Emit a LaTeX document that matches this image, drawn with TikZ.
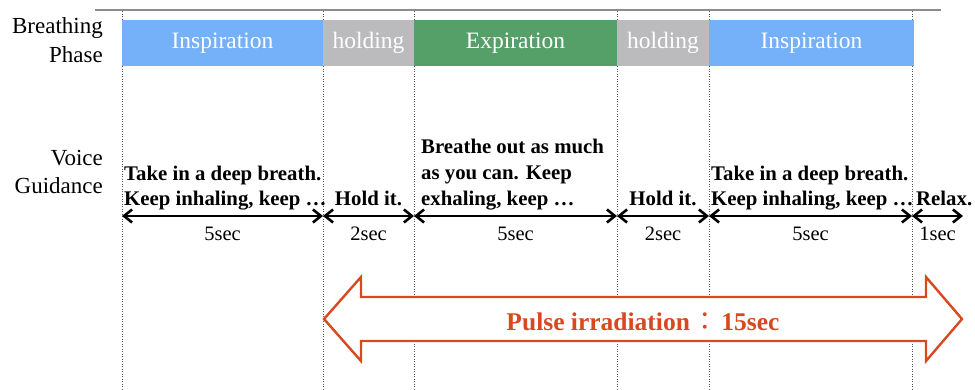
\documentclass[tikz,border=0pt]{standalone}
\usepackage{fontspec}
\setmainfont{Liberation Serif}
\newfontfamily\cjk{Noto Sans CJK JP}
\usetikzlibrary{arrows.meta}
\definecolor{inspblue}{HTML}{74B1F8}
\definecolor{holdgray}{HTML}{BBBBBD}
\definecolor{expgreen}{HTML}{55A068}
\definecolor{pulsered}{HTML}{D9491F}
\definecolor{rulegray}{HTML}{8C8C8C}
\definecolor{dotgray}{HTML}{555555}
\begin{document}
\begin{tikzpicture}[x=1pt,y=-1pt,
  phasebar/.style={inner sep=0pt,outer sep=0pt,minimum height=46pt,text=white,
    font=\fontsize{23.5}{27}\selectfont},
  rowlabel/.style={inner sep=0pt,anchor=base east,font=\fontsize{23}{27}\selectfont},
  cue/.style={inner sep=0pt,anchor=base west,font=\fontsize{20.8}{24}\selectfont\bfseries},
  cuemid/.style={cue,anchor=base},
  secs/.style={inner sep=0pt,anchor=base,font=\fontsize{20.5}{24}\selectfont},
  guide/.style={dotgray,line width=1pt,dash pattern=on 1pt off 1.5pt},
  span/.style={line width=2.6pt,
    {Straight Barb[length=8pt,width=13pt]}-{Straight Barb[length=8pt,width=13pt]}},
  pulse/.style={draw=pulsered,fill=white,line width=2.4pt,line join=miter}
]
\useasboundingbox (0,0) rectangle (975,389);

% top rule
\coordinate (r0) at (95,10);
\coordinate (r1) at (941,10);
\draw[rulegray,line width=1.5pt] (r0) -- (r1);

% dotted time markers
\foreach \i/\x in {0/122,1/323,2/414,3/617,4/709,5/912}{
  \coordinate (g\i t) at (\x,11);
  \coordinate (g\i b) at (\x,389);
  \draw[guide] (g\i t) -- (g\i b);
}

% breathing phases
\node[phasebar,fill=inspblue,minimum width=201pt] (ph1) at (222.5,43) {Inspiration};
\node[phasebar,fill=holdgray,minimum width=91pt]  (ph2) at (368.5,43) {holding};
\node[phasebar,fill=expgreen,minimum width=203pt] (ph3) at (515.5,43) {Expiration};
\node[phasebar,fill=holdgray,minimum width=92pt]  (ph4) at (663,43) {holding};
\node[phasebar,fill=inspblue,minimum width=205pt] (ph5) at (811.5,43) {Inspiration};

% row labels
\node[rowlabel] (bp1) at (103,33) {Breathing};
\node[rowlabel] (bp2) at (103,62) {Phase};
\node[rowlabel] (vg1) at (103,165) {Voice};
\node[rowlabel] (vg2) at (103,193) {Guidance};

% voice guidance
\node[cue] (c1a) at (124,180) {Take in a deep breath.};
\node[cue] (c1b) at (124,205) {Keep inhaling, keep …};
\node[cuemid] (c2) at (368.5,205) {Hold it.};
\node[cue] (c3a) at (421,153) {Breathe out as much};
\node[cue] (c3b) at (421,179) {as you can. Keep};
\node[cue] (c3c) at (421,205) {exhaling, keep …};
\node[cuemid] (c4) at (663,205) {Hold it.};
\node[cue] (c5a) at (711,180) {Take in a deep breath.};
\node[cue] (c5b) at (711,205) {Keep inhaling, keep …};
\node[cue] (c6) at (916,205) {Relax.};

% durations
\foreach \i/\x in {0/122,1/323,2/414,3/617,4/709,5/912,6/963}{
  \coordinate (a\i) at (\x,216);
}
\draw[span] (a0) -- (a1);
\draw[span] (a1) -- (a2);
\draw[span] (a2) -- (a3);
\draw[span] (a3) -- (a4);
\draw[span] (a4) -- (a5);
\draw[span] (a5) -- (a6);
\node[secs] (s1) at (222.5,240) {5sec};
\node[secs] (s2) at (368.5,240) {2sec};
\node[secs] (s3) at (515.5,240) {5sec};
\node[secs] (s4) at (663,240) {2sec};
\node[secs] (s5) at (810.5,240) {5sec};
\node[secs] (s6) at (937.5,240) {1sec};

% pulse irradiation window
\coordinate (pl) at (324,319);
\coordinate (pr) at (962,319);
\draw[pulse] (pl) -- (361,277) -- (361,297) -- (926,297) -- (926,277) -- (pr)
  -- (926,361) -- (926,341) -- (361,341) -- (361,361) -- cycle;
\node[inner sep=0pt,anchor=base,text=pulsered,
  font=\fontsize{25.5}{30}\selectfont\bfseries] (pt) at (643,330)
  {Pulse irradiation\hspace{3pt}{\cjk\mdseries ：}\hspace{3pt}15sec};
\end{tikzpicture}
\end{document}
